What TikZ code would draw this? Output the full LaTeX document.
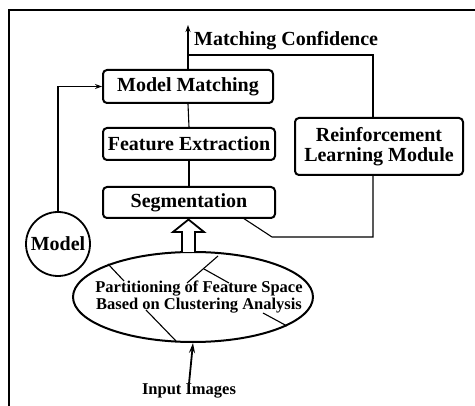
\documentclass[tikz,border=0pt]{standalone}
\usepackage{fontspec}
\setmainfont{Liberation Serif}
\usetikzlibrary{arrows.meta,calc,shapes.geometric}
\begin{document}
\begin{tikzpicture}[x=1pt,y=-1pt,
  lbl/.style={font=\bfseries\fontsize{20}{20}\selectfont},
  small/.style={font=\bfseries\fontsize{16.5}{17}\selectfont},
  box/.style={draw,line width=2pt,rounded corners=4pt,inner sep=0pt,lbl},
  wire/.style={line width=1.1pt},
  tip/.style={-{Stealth[length=7pt,width=5pt]}},
]
\useasboundingbox (0,0) rectangle (475,406);

% frame
\draw[line width=1.8pt] (9,406) -- (9,10) -- (475,10);

% processing chain
\node[box,minimum width=170pt,minimum height=33pt] (mm)  at (188,86.5) {Model Matching};
\node[box,minimum width=172pt,minimum height=32pt] (fe)  at (189,144)  {Feature Extraction};
\node[box,minimum width=172pt,minimum height=31pt] (seg) at (189,202.5) {Segmentation};
\node[box,minimum width=168pt,minimum height=57pt,align=center] (rl) at (379,146.5)
  {Reinforcement\\Learning Module};
\node[draw,circle,line width=1.8pt,minimum size=64pt,inner sep=0pt,lbl] (model) at (58,244) {Model};

% clustering ellipse with partition lines
\node[draw,ellipse,line width=2pt,minimum width=240pt,minimum height=90pt,inner sep=0pt] (part) at (193,297) {};
\draw[wire] (108,264) -- (124,281);
\draw[wire] (218,256) -- (187,283);
\draw[wire] (204,269) -- (229,283);
\draw[wire] (146,310) -- (176,341);
\draw[wire] (263,313) -- (287,326);
\node[small,align=center,inner sep=0pt] (ptext) at (199,297)
  {Partitioning of Feature Space\\Based on Clustering Analysis};

% input
\node[small,inner sep=0pt] (inp) at (189,391) {Input Images};
\draw[line width=1.8pt,-{Stealth[length=10pt,width=6pt]}] (inp.north) -- (part.south);

% hollow arrow from partitioning to segmentation
\draw[line width=1.8pt,fill=white]
  (182,252) -- (182,232) -- (173,232) -- (188.5,219.5) -- (204,232) -- (195,232) -- (195,252);

% connections
\draw[wire] (mm.south) -- (fe.north);
\draw[wire] (fe.south) -- (seg.north);
\draw[wire,tip] (model.north) |- (mm.west);

\coordinate (top) at (188,25);
\draw[wire,tip] (mm.north) -- (top);
\node[lbl,anchor=west,inner sep=0pt] (mc) at (194,41) {Matching Confidence};
\coordinate (fb) at (188,55);
\draw[wire] (fb) -| ($(rl.north)+(-6,0)$);

\coordinate (k1) at (272,237);
\coordinate (sj) at (243,218);
\draw[wire] ($(rl.south)+(-6,0)$) |- (k1) -- (sj);
\end{tikzpicture}
\end{document}
